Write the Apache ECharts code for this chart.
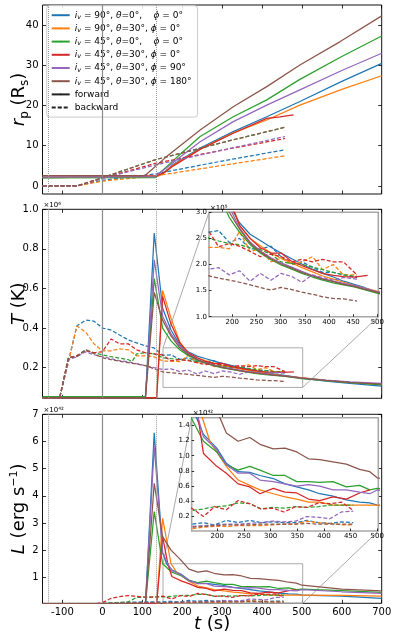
<!DOCTYPE html>
<html>
<head>
<meta charset="utf-8">
<title>r_p, T and L against t</title>
<script src="https://cdn.jsdelivr.net/npm/echarts@6.0.0/dist/echarts.min.js"></script>
<style>
  html, body { margin: 0; padding: 0; background: #fff; }
  #chart { width: 396px; height: 640px; }
</style>
</head>
<body>
<div id="chart"></div>
<script>
// ---- data ----
// order: iv90 th0 ph0, iv90 th30 ph0, iv45 th0 ph0, iv45 th30 ph0, iv45 th30 ph90, iv45 th30 ph180
const configLabels = [
  'iv=90, th=0, ph=0',
  'iv=90, th=30, ph=0',
  'iv=45, th=0, ph=0',
  'iv=45, th=30, ph=0',
  'iv=45, th=30, ph=90',
  'iv=45, th=30, ph=180'
];
const timeTicks = [-100, 0, 100, 200, 300, 400, 500, 600, 700];
const rpTicks = [0, 10, 20, 30, 40];
const tempTicks = [0.2, 0.4, 0.6, 0.8, 1.0];
const lumTicks = [1, 2, 3, 4, 5, 6, 7];
const insetTimeTicks = [200, 250, 300, 350, 400, 450, 500];
const tempInsetTicks = [0.1, 0.15, 0.2, 0.25, 0.3];
const lumInsetTicks = [0.2, 0.4, 0.6, 0.8, 1.0, 1.2, 1.4];
const refTimes = [-136, 0, 136];

// r_p (R_s), forward (solid)
const rpForward = [
  [[-150,2.1],[135,2.3],[150,3.0],[178,5.4],[245,9.4],[328,13.5],[412,17.2],[495,21.0],[600,26.0],[700,30.5]],
  [[-150,2.1],[135,2.3],[150,2.9],[178,5.2],[245,9.2],[328,13.2],[412,16.4],[495,20.1],[600,24.0],[700,27.4]],
  [[-150,2.0],[132,2.1],[161,4.8],[200,8.3],[245,12.3],[328,17.2],[412,21.4],[495,26.5],[600,32.2],[700,37.3]],
  [[-150,2.5],[135,2.5],[155,3.3],[178,5.0],[245,9.1],[328,13.1],[412,16.8],[445,17.2],[479,17.7]],
  [[-150,2.2],[130,2.3],[161,4.5],[200,7.6],[245,11.0],[328,16.0],[412,20.1],[495,23.9],[600,28.7],[700,33.0]],
  [[-150,2.6],[107,2.6],[161,7.3],[245,13.9],[328,19.7],[412,24.7],[495,30.1],[596,35.9],[700,42.3]]
];
// r_p (R_s), backward (dashed)
const rpBackward = [
  [[-150,0],[-64,0],[0,1.4],[132,3.0],[300,6.2],[458,9.0]],
  [[-150,0],[-64,0],[0,1.2],[132,2.5],[300,5.1],[458,7.5]],
  [[-150,0],[-64,0],[0,2.0],[132,6.5],[300,10.8],[458,14.6]],
  [[-150,0],[-64,0],[0,1.9],[132,5.6],[300,8.9],[458,11.8]],
  [[-150,0],[-64,0],[0,1.9],[132,5.2],[300,8.9],[458,12.3]],
  [[-150,0],[-64,0],[0,2.1],[132,6.5],[300,10.8],[458,14.6]]
];

// T (1e6 K), forward
const tempForward = [
  [[-150,0.048],[108,0.048],[130,0.88],[151,0.50],[172,0.39],[194,0.315],[215,0.28],[237,0.258],[258,0.246],[280,0.233],[301,0.222],[323,0.211],[344,0.201],[366,0.191],[387,0.183],[409,0.176],[430,0.168],[452,0.162],[473,0.156],[499,0.147],[560,0.132],[620,0.121],[700,0.107]],
  [[-150,0.048],[136,0.048],[151,0.59],[172,0.45],[194,0.33],[215,0.275],[237,0.25],[258,0.236],[280,0.222],[301,0.212],[323,0.203],[344,0.194],[366,0.186],[387,0.178],[409,0.172],[430,0.166],[452,0.16],[473,0.155],[499,0.149],[560,0.135],[620,0.125],[700,0.115]],
  [[-150,0.054],[108,0.054],[130,0.65],[151,0.40],[172,0.335],[194,0.29],[215,0.262],[237,0.238],[258,0.222],[280,0.209],[301,0.199],[323,0.191],[344,0.183],[366,0.176],[387,0.17],[409,0.165],[430,0.161],[452,0.157],[473,0.152],[499,0.145],[560,0.134],[620,0.124],[700,0.113]],
  [[-150,0.048],[136,0.048],[151,0.56],[172,0.42],[194,0.325],[215,0.275],[237,0.25],[258,0.232],[280,0.222],[301,0.222],[323,0.206],[344,0.198],[366,0.19],[387,0.183],[409,0.179],[430,0.177],[452,0.176],[480,0.179]],
  [[-150,0.048],[108,0.048],[130,0.745],[151,0.46],[172,0.37],[194,0.31],[215,0.27],[237,0.243],[258,0.226],[280,0.213],[301,0.203],[323,0.195],[344,0.187],[366,0.179],[387,0.173],[409,0.168],[430,0.164],[452,0.16],[473,0.155],[499,0.148],[560,0.137],[620,0.128],[700,0.12]],
  [[-150,0.048],[108,0.048],[130,0.58],[151,0.44],[172,0.36],[194,0.30],[215,0.268],[237,0.241],[258,0.224],[280,0.211],[301,0.201],[323,0.193],[344,0.185],[366,0.178],[387,0.172],[409,0.167],[430,0.162],[452,0.158],[473,0.153],[499,0.147],[560,0.136],[620,0.126],[700,0.116]]
];
// T (1e6 K), backward
const tempBackward = [
  [[-150,0.048],[-107,0.048],[-85,0.23],[-64,0.41],[-42,0.44],[-21,0.435],[0,0.40],[22,0.39],[43,0.365],[65,0.34],[86,0.325],[108,0.31],[129,0.30],[152,0.262],[172,0.265],[194,0.242],[215,0.25],[237,0.23],[258,0.23],[280,0.235],[301,0.215],[323,0.20],[344,0.205],[366,0.195],[387,0.185],[409,0.185],[430,0.18],[458,0.175]],
  [[-150,0.048],[-107,0.048],[-85,0.23],[-64,0.41],[-42,0.38],[-21,0.32],[0,0.285],[22,0.285],[43,0.295],[65,0.29],[86,0.26],[108,0.26],[129,0.255],[152,0.233],[172,0.233],[194,0.23],[215,0.263],[237,0.225],[258,0.23],[280,0.205],[301,0.212],[323,0.20],[344,0.205],[366,0.215],[387,0.19],[409,0.20],[430,0.18],[458,0.18]],
  [[-150,0.048],[-107,0.048],[-85,0.25],[-64,0.26],[-42,0.29],[-21,0.275],[0,0.265],[22,0.255],[43,0.248],[65,0.24],[75,0.232],[86,0.27],[108,0.275],[129,0.27],[152,0.25],[172,0.245],[194,0.24],[215,0.238],[237,0.232],[258,0.228],[280,0.22],[301,0.205],[323,0.202],[344,0.2],[366,0.195],[387,0.19],[409,0.185],[430,0.18],[458,0.177]],
  [[-150,0.048],[-107,0.048],[-85,0.25],[-64,0.26],[-42,0.285],[-21,0.275],[0,0.28],[22,0.345],[43,0.32],[65,0.32],[86,0.29],[108,0.275],[129,0.27],[152,0.263],[172,0.234],[194,0.24],[215,0.235],[237,0.225],[258,0.215],[280,0.22],[301,0.215],[323,0.205],[344,0.21],[366,0.205],[387,0.21],[409,0.205],[430,0.205],[458,0.18]],
  [[-150,0.048],[-107,0.048],[-85,0.24],[-64,0.255],[-42,0.28],[-21,0.265],[0,0.255],[22,0.245],[43,0.235],[65,0.23],[86,0.22],[108,0.21],[129,0.2],[152,0.191],[172,0.194],[194,0.18],[215,0.188],[237,0.168],[258,0.183],[280,0.17],[301,0.183],[323,0.177],[344,0.166],[366,0.18],[387,0.175],[409,0.17],[430,0.175],[458,0.172]],
  [[-150,0.048],[-107,0.048],[-85,0.25],[-64,0.255],[-42,0.29],[-21,0.27],[0,0.25],[22,0.24],[43,0.232],[65,0.225],[86,0.218],[108,0.21],[129,0.195],[152,0.178],[172,0.174],[194,0.17],[215,0.166],[237,0.161],[258,0.156],[280,0.151],[301,0.156],[323,0.152],[344,0.147],[366,0.143],[387,0.138],[409,0.135],[430,0.134],[458,0.13]]
];

// L (1e42 erg/s), forward
const lumForward = [
  [[-150,0.03],[108,0.03],[130,6.32],[151,1.9],[161,1.5],[174,1.28],[199,1.10],[217,0.90],[239,0.79],[261,0.78],[280,0.74],[305,0.70],[327,0.63],[349,0.59],[371,0.55],[392,0.50],[417,0.47],[442,0.42],[467,0.39],[486,0.38],[500,0.35],[600,0.31],[700,0.23]],
  [[-150,0.03],[136,0.03],[151,3.17],[172,1.5],[186,1.19],[199,1.05],[217,0.86],[239,0.68],[261,0.61],[280,0.55],[305,0.50],[327,0.46],[349,0.43],[371,0.39],[392,0.39],[417,0.35],[442,0.35],[467,0.35],[486,0.35],[500,0.35],[600,0.34],[700,0.31]],
  [[-150,0.03],[108,0.03],[130,3.42],[151,1.50],[174,1.19],[199,1.05],[217,0.88],[239,0.81],[261,0.86],[280,0.81],[305,0.74],[327,0.74],[349,0.66],[371,0.66],[392,0.65],[417,0.66],[442,0.59],[467,0.61],[486,0.55],[500,0.57],[600,0.51],[700,0.45]],
  [[-150,0.03],[136,0.03],[151,2.5],[164,1.5],[174,1.03],[199,0.86],[217,0.77],[239,0.63],[261,0.59],[280,0.50],[305,0.57],[327,0.52],[349,0.51],[371,0.43],[392,0.41],[417,0.46],[442,0.43],[467,0.51],[486,0.55]],
  [[-150,0.03],[108,0.03],[130,5.81],[151,1.9],[164,1.5],[174,1.25],[199,1.08],[217,0.88],[239,0.77],[261,0.77],[280,0.68],[305,0.66],[327,0.63],[349,0.60],[371,0.62],[392,0.60],[417,0.55],[442,0.55],[467,0.52],[486,0.50],[500,0.55],[600,0.47],[700,0.41]],
  [[-150,0.03],[108,0.03],[130,4.46],[151,2.5],[172,2.0],[194,1.68],[217,1.30],[239,1.19],[261,1.24],[280,1.15],[305,1.09],[327,1.10],[349,1.05],[371,0.96],[392,0.95],[417,0.92],[442,0.89],[467,0.82],[486,0.79],[500,0.71],[600,0.57],[700,0.50]]
];
// L (1e42 erg/s), backward
const lumBackward = [
  [[-150,0],[-64,0],[-21,0.02],[0,0.04],[43,0.07],[86,0.09],[129,0.1],[152,0.10],[174,0.12],[195,0.09],[217,0.15],[239,0.12],[261,0.15],[282,0.12],[304,0.13],[325,0.12],[347,0.12],[368,0.15],[390,0.12],[411,0.11],[433,0.13],[455,0.12]],
  [[-150,0],[-64,0],[0,0.03],[43,0.05],[86,0.06],[129,0.06],[152,0.04],[174,0.06],[195,0.07],[217,0.07],[239,0.08],[261,0.08],[282,0.08],[304,0.09],[325,0.10],[347,0.10],[368,0.14],[390,0.12],[411,0.11],[433,0.09],[455,0.09]],
  [[-150,0],[-64,0],[0,0.03],[43,0.08],[65,0.10],[86,0.26],[108,0.27],[129,0.28],[152,0.28],[174,0.30],[195,0.33],[217,0.34],[239,0.38],[261,0.37],[282,0.30],[304,0.32],[325,0.31],[347,0.33],[368,0.32],[390,0.33],[411,0.35],[433,0.35],[455,0.35]],
  [[-150,0],[-64,0],[-21,0.02],[0,0.07],[22,0.23],[43,0.29],[65,0.33],[86,0.30],[108,0.27],[129,0.27],[152,0.31],[174,0.20],[195,0.33],[217,0.29],[239,0.41],[261,0.37],[282,0.30],[304,0.31],[325,0.26],[347,0.33],[368,0.32],[390,0.38],[411,0.37],[433,0.39],[455,0.28]],
  [[-150,0],[-64,0],[0,0.03],[43,0.05],[86,0.06],[129,0.07],[152,0.07],[174,0.08],[195,0.09],[217,0.1],[239,0.1],[261,0.11],[282,0.12],[304,0.14],[325,0.13],[347,0.14],[368,0.2],[390,0.19],[411,0.17],[433,0.26],[455,0.27]],
  [[-150,0],[-64,0],[0,0.02],[43,0.05],[86,0.07],[129,0.07],[152,0.06],[174,0.07],[195,0.08],[217,0.09],[239,0.09],[261,0.09],[282,0.10],[304,0.10],[325,0.10],[347,0.10],[368,0.11],[390,0.10],[411,0.10],[433,0.10],[455,0.10]]
];

// ---- styling ----
const FONT = 'DejaVu Sans';
const palette = ['#1f77b4', '#ff7f0e', '#2ca02c', '#d62728', '#9467bd', '#8c564b'];
const DASH = [4, 2];
const insetX = [152, 502];
const tempInsetY = [0.1, 0.3];
const lumInsetY = [0.01, 1.5];

// legend labels in mathtext style
const legendRich = {
  'iv=90, th=0, ph=0':    '{it|i}{sub|v}{n| = 90°, }{it|θ}{n|=0°,    }{it|ϕ}{n| = 0°}',
  'iv=90, th=30, ph=0':   '{it|i}{sub|v}{n| = 90°, }{it|θ}{n|=30°, }{it|ϕ}{n| = 0°}',
  'iv=45, th=0, ph=0':    '{it|i}{sub|v}{n| = 45°, }{it|θ}{n|=0°,    }{it|ϕ}{n| = 0°}',
  'iv=45, th=30, ph=0':   '{it|i}{sub|v}{n| = 45°, }{it|θ}{n|=30°, }{it|ϕ}{n| = 0°}',
  'iv=45, th=30, ph=90':  '{it|i}{sub|v}{n| = 45°, }{it|θ}{n|=30°, }{it|ϕ}{n| = 90°}',
  'iv=45, th=30, ph=180': '{it|i}{sub|v}{n| = 45°, }{it|θ}{n|=30°, }{it|ϕ}{n| = 180°}'
};

const bigRich = {
  n:   {fontFamily: FONT, fontSize: 18, lineHeight: 22, color: '#000'},
  it:  {fontFamily: FONT, fontSize: 18, lineHeight: 22, fontStyle: 'italic', color: '#000'},
  sub: {fontFamily: FONT, fontSize: 12, lineHeight: 12, verticalAlign: 'bottom', color: '#000'},
  sup: {fontFamily: FONT, fontSize: 11, lineHeight: 11, verticalAlign: 'top', color: '#000'}
};

const chart = echarts.init(document.getElementById('chart'));

const mainTop = [5, 209.3, 414.3];
const grids = mainTop.map(t => ({
  left: 42.5, right: 14.3, top: t, height: 189, containLabel: false, outerBoundsMode: 'none',
  show: true, borderColor: '#111', borderWidth: 1, backgroundColor: 'transparent'
}));
grids.push({left: 209, top: 212.3, width: 169.3, height: 104.4, containLabel: false, outerBoundsMode: 'none',
  show: true, borderColor: '#a8a8a8', borderWidth: 1.6, backgroundColor: '#fff', zlevel: 1, z: 0});
grids.push({left: 191.7, top: 417.7, width: 186.6, height: 113.3, containLabel: false, outerBoundsMode: 'none',
  show: true, borderColor: '#a8a8a8', borderWidth: 1.6, backgroundColor: '#fff', zlevel: 1, z: 0});

const noLine = {show: false, onZero: false};
function tick(vals, len) {
  return {show: true, inside: true, length: len, customValues: vals, lineStyle: {color: '#000', width: 0.8}};
}
function label(vals, show, size, fmt, margin) {
  return {show: show, customValues: vals, fontFamily: FONT, fontSize: size, color: '#000',
    margin: margin, formatter: fmt};
}

const xAxes = [];
const yAxes = [];
// main bottom x axes (0..2)
for (let g = 0; g < 3; g++) {
  xAxes.push({type: 'value', gridIndex: g, min: -150, max: 700, position: 'bottom',
    axisLine: noLine, splitLine: {show: false},
    axisTick: tick(timeTicks, 3.5), axisLabel: label(timeTicks, g === 2, 10, null, 4),
    name: g === 2 ? '{it|t}{n| (s)}' : '', nameLocation: 'middle', nameGap: 10, nameMoveOverlap: false,
    nameTextStyle: {rich: bigRich}});
}
// inset x axes (3, 4)
for (let g = 3; g < 5; g++) {
  xAxes.push({type: 'value', gridIndex: g, min: insetX[0], max: insetX[1], zlevel: 1, z: 5,
    axisLine: noLine, splitLine: {show: false},
    axisTick: tick(insetTimeTicks, 2.5), axisLabel: label(insetTimeTicks, true, 7, null, 2)});
}
// main top x axes (5..7), ticks only
for (let g = 0; g < 3; g++) {
  xAxes.push({type: 'value', gridIndex: g, min: -150, max: 700, position: 'top',
    axisLine: noLine, splitLine: {show: false},
    axisTick: tick(timeTicks, 3.5), axisLabel: {show: false}});
}

const yRanges = [[-2, 45], [0.045, 1.0], [0.045, 7]];
const yTicks = [rpTicks, tempTicks, lumTicks];
const yFmt = [v => String(v), v => v.toFixed(1), v => String(v)];
const yNames = [
  '{it|r}{sub|p}{n| (R}{sub|s}{n|)}',
  '{it|T}{n| (K)}',
  '{it|L}{n| (erg s}{sup|−1}{n|)}'
];
for (let g = 0; g < 3; g++) {
  yAxes.push({type: 'value', gridIndex: g, min: yRanges[g][0], max: yRanges[g][1], position: 'left',
    axisLine: noLine, splitLine: {show: false},
    axisTick: tick(yTicks[g], 3.5), axisLabel: label(yTicks[g], true, 10, yFmt[g], 4),
    name: yNames[g], nameLocation: 'middle', nameRotate: 90, nameGap: 12, nameMoveOverlap: false,
    nameTextStyle: {rich: bigRich}});
}
yAxes.push({type: 'value', gridIndex: 3, min: tempInsetY[0], max: tempInsetY[1], zlevel: 1, z: 5,
  axisLine: noLine, splitLine: {show: false},
  axisTick: tick(tempInsetTicks, 2.5), axisLabel: label(tempInsetTicks, true, 7, v => (v * 10).toFixed(1), 2)});
yAxes.push({type: 'value', gridIndex: 4, min: lumInsetY[0], max: lumInsetY[1], zlevel: 1, z: 5,
  axisLine: noLine, splitLine: {show: false},
  axisTick: tick(lumInsetTicks, 2.5), axisLabel: label(lumInsetTicks, true, 7, v => v.toFixed(1), 2)});
for (let g = 0; g < 3; g++) {
  yAxes.push({type: 'value', gridIndex: g, min: yRanges[g][0], max: yRanges[g][1], position: 'right',
    axisLine: noLine, splitLine: {show: false},
    axisTick: tick(yTicks[g], 3.5), axisLabel: {show: false}});
}

const series = [];
function addLine(name, data, ci, dashed, ax, extra) {
  series.push(Object.assign({
    name: name, type: 'line', data: data, xAxisIndex: ax, yAxisIndex: ax,
    symbol: 'none', showSymbol: false, clip: true, animation: false, silent: true,
    lineStyle: {color: palette[ci], width: 1.25, type: dashed ? DASH : 'solid'},
    itemStyle: {color: palette[ci]},
    zlevel: ax >= 3 ? 1 : 0, z: 2
  }, extra || {}));
}

const refLines = {
  silent: true, symbol: ['none', 'none'], label: {show: false}, animation: false,
  data: refTimes.map(t => ({xAxis: t, lineStyle: t === 0
    ? {type: 'solid', color: '#8a8a8a', width: 1.2}
    : {type: 'dotted', color: '#9a9a9a', width: 1}}))
};
function zoomBox(y0, y1) {
  return {silent: true, animation: false, label: {show: false},
    itemStyle: {color: 'rgba(0,0,0,0)', borderColor: '#aaa', borderWidth: 1},
    data: [[{coord: [insetX[0], y0]}, {coord: [insetX[1], y1]}]]};
}

const panels = [
  {fwd: rpForward, bwd: rpBackward, ax: 0},
  {fwd: tempForward, bwd: tempBackward, ax: 1, inset: 3, box: [tempInsetY[0], tempInsetY[1]]},
  {fwd: lumForward, bwd: lumBackward, ax: 2, inset: 4, box: [0.045, lumInsetY[1]]}
];
panels.forEach((p, pi) => {
  for (let i = 0; i < 6; i++) {
    const extra = {};
    if (i === 0) {
      extra.markLine = refLines;
      if (p.box) extra.markArea = zoomBox(p.box[0], p.box[1]);
    }
    addLine(pi === 0 ? configLabels[i] : 'p' + pi + 'f' + i, p.fwd[i], i, false, p.ax, extra);
    addLine('p' + pi + 'b' + i, p.bwd[i], i, true, p.ax);
  }
  if (p.inset !== undefined) {
    for (let i = 0; i < 6; i++) {
      addLine('p' + pi + 'if' + i, p.fwd[i], i, false, p.inset);
      addLine('p' + pi + 'ib' + i, p.bwd[i], i, true, p.inset);
    }
  }
});
// legend-only entries
series.push({name: 'forward', type: 'line', data: [], xAxisIndex: 0, yAxisIndex: 0, symbol: 'none',
  lineStyle: {color: '#222', width: 1.25}, itemStyle: {color: '#222'}});
series.push({name: 'backward', type: 'line', data: [], xAxisIndex: 0, yAxisIndex: 0, symbol: 'none',
  lineStyle: {color: '#222', width: 1.25, type: DASH}, itemStyle: {color: '#222'}});

chart.setOption({
  animation: false,
  backgroundColor: '#fff',
  textStyle: {fontFamily: FONT},
  grid: grids,
  xAxis: xAxes,
  yAxis: yAxes,
  legend: {
    data: configLabels.concat(['forward', 'backward']),
    orient: 'vertical', left: 46.7, top: 5.7,
    itemWidth: 18, itemHeight: 2, itemGap: 2.2,
    padding: [4, 6, 4, 4],
    backgroundColor: 'rgba(255,255,255,0.85)', borderColor: '#ccc', borderWidth: 1, borderRadius: 3,
    selectedMode: false,
    formatter: name => legendRich[name] || ('{n|' + name + '}'),
    textStyle: {
      fontFamily: FONT, fontSize: 9, lineHeight: 11, color: '#000',
      rich: {
        n: {fontFamily: FONT, fontSize: 9, lineHeight: 11, color: '#000'},
        it: {fontFamily: FONT, fontSize: 9, lineHeight: 11, fontStyle: 'italic', color: '#000'},
        sub: {fontFamily: FONT, fontSize: 6.5, lineHeight: 6, verticalAlign: 'bottom', fontStyle: 'italic', color: '#000'}
      }
    }
  },
  series: series
});

// connectors from zoom boxes to insets, and the offset texts
function px(ax, v) { return chart.convertToPixel({xAxisIndex: ax, yAxisIndex: ax}, v); }
function connector(a, b) {
  return {type: 'line', silent: true, z: 1, shape: {x1: a[0], y1: a[1], x2: b[0], y2: b[1]},
    style: {stroke: '#aaa', lineWidth: 1}};
}
function offsetText(p, txt, lvl) {
  return {type: 'text', silent: true, zlevel: lvl, z: 10, x: p[0] + 1, y: p[1] - 1,
    style: {text: txt, fontFamily: FONT, fontSize: 7, fill: '#000', verticalAlign: 'bottom', align: 'left'}};
}
chart.setOption({
  graphic: [
    connector(px(1, [insetX[0], tempInsetY[1]]), px(3, [insetX[0], tempInsetY[1]])),
    connector(px(1, [insetX[1], tempInsetY[0]]), px(3, [insetX[1], tempInsetY[0]])),
    connector(px(2, [insetX[0], lumInsetY[1]]), px(4, [insetX[0], lumInsetY[1]])),
    connector(px(2, [insetX[1], 0.045]), px(4, [insetX[1], lumInsetY[0]])),
    offsetText(px(1, [-150, 1.0]), '×10⁶', 0),
    offsetText(px(2, [-150, 7]), '×10⁴²', 0),
    offsetText(px(3, [insetX[0], tempInsetY[1]]), '×10⁵', 1),
    offsetText(px(4, [insetX[0], lumInsetY[1]]), '×10⁴²', 1)
  ]
});
</script>
</body>
</html>
